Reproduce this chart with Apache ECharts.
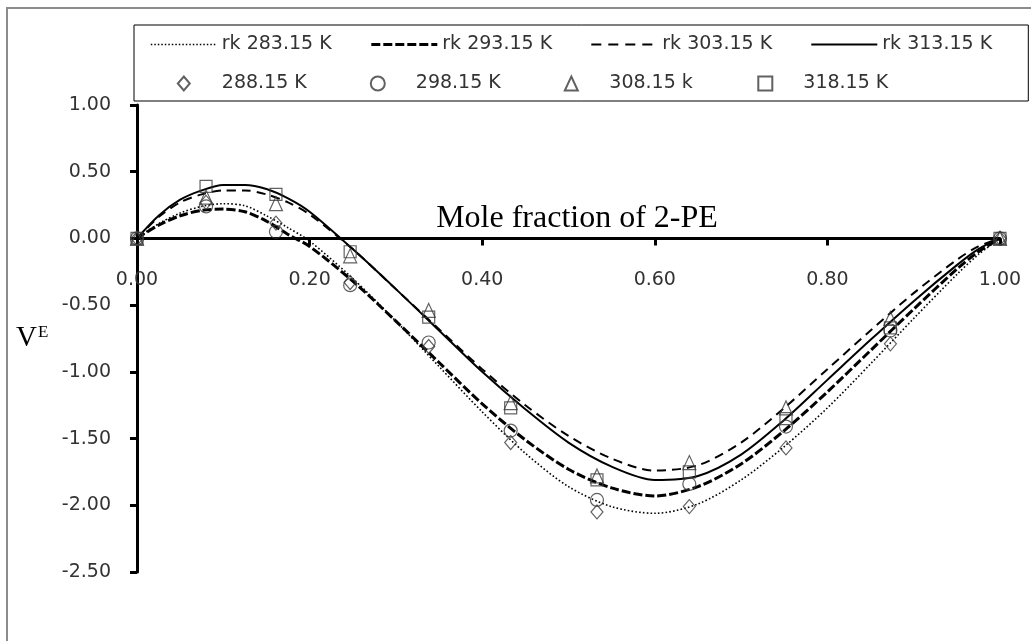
<!DOCTYPE html>
<html><head><meta charset="utf-8">
<script src="https://cdn.jsdelivr.net/npm/echarts@6/dist/echarts.min.js"></script>
<style>html,body{margin:0;padding:0;background:#fff}#c{width:1031px;height:641px}</style>
</head><body><div id="c"></div>
<script>
// fitted (Redlich-Kister) curves
const curveX = [0,0.025,0.05,0.075,0.1,0.125,0.15,0.175,0.2,0.25,0.3,0.35,0.4,0.45,0.5,0.55,0.6,0.65,0.7,0.75,0.8,0.85,0.9,0.95,0.975,1];
const rk283 = [0,0.11,0.19,0.24,0.26,0.245,0.17,0.08,-0.02,-0.30,-0.62,-0.96,-1.30,-1.61,-1.86,-2.01,-2.06,-1.99,-1.81,-1.56,-1.27,-0.94,-0.60,-0.27,-0.12,0];
const rk293 = [0,0.10,0.17,0.21,0.22,0.20,0.13,0.03,-0.06,-0.32,-0.62,-0.93,-1.24,-1.51,-1.73,-1.87,-1.93,-1.86,-1.69,-1.44,-1.15,-0.84,-0.53,-0.23,-0.10,0];
const rk303 = [0,0.16,0.27,0.33,0.36,0.36,0.33,0.27,0.18,-0.08,-0.38,-0.68,-0.98,-1.25,-1.48,-1.65,-1.74,-1.70,-1.53,-1.27,-0.98,-0.69,-0.41,-0.16,-0.06,0];
const rk313 = [0,0.17,0.29,0.36,0.40,0.40,0.37,0.30,0.20,-0.08,-0.38,-0.69,-1.00,-1.28,-1.53,-1.71,-1.81,-1.78,-1.62,-1.36,-1.06,-0.76,-0.47,-0.20,-0.08,0];
// experimental points
const pointX = [0,0.08,0.161,0.247,0.338,0.433,0.533,0.640,0.752,0.873,1];
const p288 = [0,0.27,0.115,-0.33,-0.81,-1.53,-2.05,-2.01,-1.57,-0.79,0];
const p298 = [0,0.24,0.05,-0.35,-0.78,-1.44,-1.96,-1.84,-1.41,-0.69,0];
const p308 = [0,0.31,0.26,-0.13,-0.54,-1.23,-1.78,-1.68,-1.27,-0.60,0];
const p318 = [0,0.39,0.33,-0.10,-0.59,-1.27,-1.81,-1.75,-1.35,-0.67,0];
const yMin = -2.5, yMax = 1.0, yStep = 0.5;
const xMin = 0, xMax = 1.0, xStep = 0.2;

const W = 1031, H = 641;
const gridTop = 105, gridBottom = 69;
const plotH = H - gridTop - gridBottom;
// x axis crosses the y axis at 0 (labels travel with it)
const xAxisOffset = -plotH * (0 - yMin) / (yMax - yMin);

const pairs = (xs, ys) => xs.map((x, i) => [x, ys[i]]);
const lineS = (name, ys, lw, type) => ({
  name, type: 'line', data: pairs(curveX, ys), smooth: 0.3, symbol: 'none',
  lineStyle: { color: '#000', width: lw, type }, itemStyle: { color: 'transparent', borderWidth: 0 }, z: 3
});
const ptS = (name, ys, sym, size) => ({
  name, type: 'scatter', data: pairs(pointX, ys), symbol: sym, symbolSize: size,
  itemStyle: { color: 'transparent', borderColor: '#3a3a3a', borderWidth: 1.2 }, z: 4
});
const font = '"DejaVu Sans", sans-serif';
const serif = '"Liberation Serif", "Times New Roman", serif';
const hideSym = { color: 'transparent', borderColor: 'transparent', borderWidth: 0 };
const chart = echarts.init(document.getElementById('c'));
chart.setOption({
  backgroundColor: '#fff',
  animation: false,
  graphic: [
    { type: 'rect', shape: { x: 7, y: 8, width: 1100, height: 900 }, style: { fill: 'none', stroke: '#8c8c8c', lineWidth: 2 }, z: -1 },
    { type: 'text', x: 577, y: 219, style: { text: 'Mole fraction of 2-PE', font: '32px ' + serif, fill: '#000', align: 'center', verticalAlign: 'middle' } },
    { type: 'text', left: 16, top: 324, style: { text: '{v|V}{e|E}', rich: { v: { fontFamily: serif, fontSize: 29, fill: '#000', verticalAlign: 'bottom' }, e: { fontFamily: serif, fontSize: 17, fill: '#000', verticalAlign: 'top', padding: [0,0,12,1] } } } }
  ],
  legend: {
    left: 134, top: 25, width: 870,
    padding: [10, 18, 8, 16],
    borderColor: '#000', borderWidth: 1,
    itemWidth: 66, itemHeight: 14, itemGap: 20,
    symbolKeepAspect: true,
    textStyle: { fontFamily: font, fontSize: 19, color: '#333', width: 128, lineHeight: 18 },
    data: [
      { name: 'rk 283.15 K', itemStyle: hideSym, lineStyle: { width: 1.6, type: [1.5, 2] } },
      { name: 'rk 293.15 K', itemStyle: hideSym, lineStyle: { width: 3, type: [9, 3] } },
      { name: 'rk 303.15 K', itemStyle: hideSym, lineStyle: { width: 2, type: [10, 7] } },
      { name: 'rk 313.15 K', itemStyle: hideSym, lineStyle: { width: 2, type: 'solid' } },
      { name: '288.15 K', icon: 'path://M0,-7L6,0L0,7L-6,0Z' },
      { name: '298.15 K', icon: 'path://M-6.5,0A6.5,6.5 0 1 1 6.5,0A6.5,6.5 0 1 1 -6.5,0Z' },
      { name: '308.15 k', icon: 'path://M0,-7L6.5,7L-6.5,7Z' },
      { name: '318.15 K', icon: 'path://M-6,-6L6,-6L6,6L-6,6Z' }
    ]
  },
  grid: { left: 137, right: 31, top: gridTop, bottom: gridBottom },
  xAxis: {
    type: 'value', min: xMin, max: xMax, interval: xStep, position: 'bottom', offset: xAxisOffset,
    axisLine: { onZero: false, lineStyle: { color: '#000', width: 3 } },
    axisTick: { show: true, inside: false, length: 7, lineStyle: { color: '#000', width: 3 } },
    axisLabel: { margin: 32, fontFamily: font, fontSize: 19, color: '#333', formatter: v => v.toFixed(2) },
    splitLine: { show: false }
  },
  yAxis: {
    type: 'value', min: yMin, max: yMax, interval: yStep,
    axisLine: { onZero: false, lineStyle: { color: '#000', width: 3 } },
    axisTick: { show: true, inside: false, length: 7, lineStyle: { color: '#000', width: 3 } },
    axisLabel: { margin: 26, fontFamily: font, fontSize: 19, color: '#333', formatter: v => v.toFixed(2) },
    splitLine: { show: false }
  },
  series: [
    lineS('rk 283.15 K', rk283, 1.6, [1.6, 2.2]),
    lineS('rk 293.15 K', rk293, 3, [9, 3]),
    lineS('rk 303.15 K', rk303, 2, [9, 6]),
    lineS('rk 313.15 K', rk313, 2, 'solid'),
    ptS('288.15 K', p288, 'diamond', [12, 14]),
    ptS('298.15 K', p298, 'circle', 13),
    ptS('308.15 k', p308, 'triangle', [13, 14]),
    ptS('318.15 K', p318, 'rect', 12)
  ]
});
</script></body></html>
